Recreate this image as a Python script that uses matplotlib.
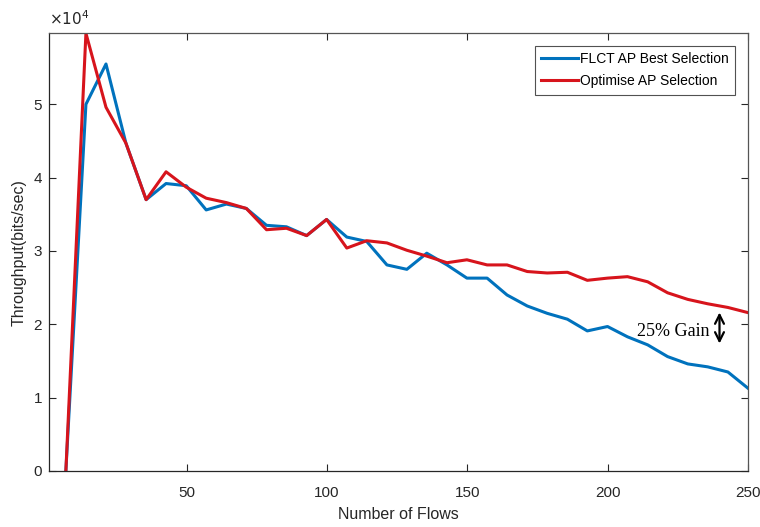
import matplotlib
matplotlib.use("Agg")
import matplotlib.pyplot as plt

flows = [7, 14.15, 21.3, 28.4, 35.6, 42.7, 49.9, 57.0, 64.2, 71.3, 78.5, 85.6,
         92.8, 99.9, 107.1, 114.2, 121.4, 128.5, 135.6, 142.8, 149.9, 157.1,
         164.2, 171.4, 178.5, 185.7, 192.8, 200.0, 207.1, 214.3, 221.4, 228.6,
         235.7, 242.9, 250]

flct = [0, 50000, 55500, 44700, 37000, 39200, 38900, 35600, 36400, 35800, 33500,
        33300, 32100, 34300, 31900, 31300, 28100, 27500, 29700, 28100, 26300,
        26300, 24000, 22500, 21500, 20700, 19100, 19700, 18300, 17200, 15600,
        14600, 14200, 13500, 11300]

optimise = [0, 59700, 49600, 44700, 37000, 40800, 38700, 37200, 36600, 35800,
            32900, 33100, 32100, 34300, 30400, 31400, 31100, 30100, 29300, 28400,
            28800, 28100, 28100, 27200, 27000, 27100, 26000, 26300, 26500, 25800,
            24300, 23400, 22800, 22300, 21600]

series_names = ["FLCT AP Best Selection", "Optimise AP Selection"]
y_ticks = [0, 10000, 20000, 30000, 40000, 50000]
y_ticklabels = ["0", "1", "2", "3", "4", "5"]
x_ticks = [50, 100, 150, 200, 250]

plt.rcParams['font.family'] = ['Liberation Sans', 'DejaVu Sans']

fig = plt.figure(figsize=(7.6, 5.27), dpi=100)
ax = fig.add_axes([0.0645, 0.1063, 0.9195, 0.8307])

ax.plot(flows, flct, color='#0072BD', lw=2.2, label=series_names[0])
ax.plot(flows, optimise, color='#D7141C', lw=2.2, label=series_names[1])

ax.set_xlim(1, 250)
ax.set_ylim(0, 59700)
ax.set_xticks(x_ticks)
ax.set_yticks(y_ticks)
ax.set_yticklabels(y_ticklabels)
ax.tick_params(direction='in', top=True, right=True, labelsize=11,
               colors='#262626', length=5, width=0.8)
ax.tick_params(axis='x', pad=11)
ax.tick_params(axis='y', pad=5)
for s in ax.spines.values():
    s.set_color('#555555')
    s.set_linewidth(0.9)
ax.spines['bottom'].set_color('#262626')
ax.spines['left'].set_color('#262626')

ax.set_xlabel("Number of Flows", fontsize=11.5, color='#262626', labelpad=5)
ax.set_ylabel("Throughput(bits/sec)", fontsize=11.5, color='#262626', labelpad=5)

ax.text(0.0, 1.012, r'$\times10^4$', transform=ax.transAxes, fontsize=11,
        color='#262626', ha='left', va='bottom')

leg = ax.legend(loc='upper right', fontsize=10, frameon=True, fancybox=False,
                edgecolor='#262626', handlelength=2.6, handletextpad=0.2,
                borderaxespad=0.9, borderpad=0.45, labelspacing=0.6)
leg.get_frame().set_linewidth(0.8)

ax.text(236.3, 19000, "25% Gain", fontsize=13, family='Liberation Serif',
        ha='right', va='center', color='black')
ax.annotate('', xy=(239.9, 22000), xytext=(239.9, 17000),
            arrowprops=dict(arrowstyle='<->', color='black', lw=1.6,
                            mutation_scale=16))

fig.savefig("out.png", dpi=100)
